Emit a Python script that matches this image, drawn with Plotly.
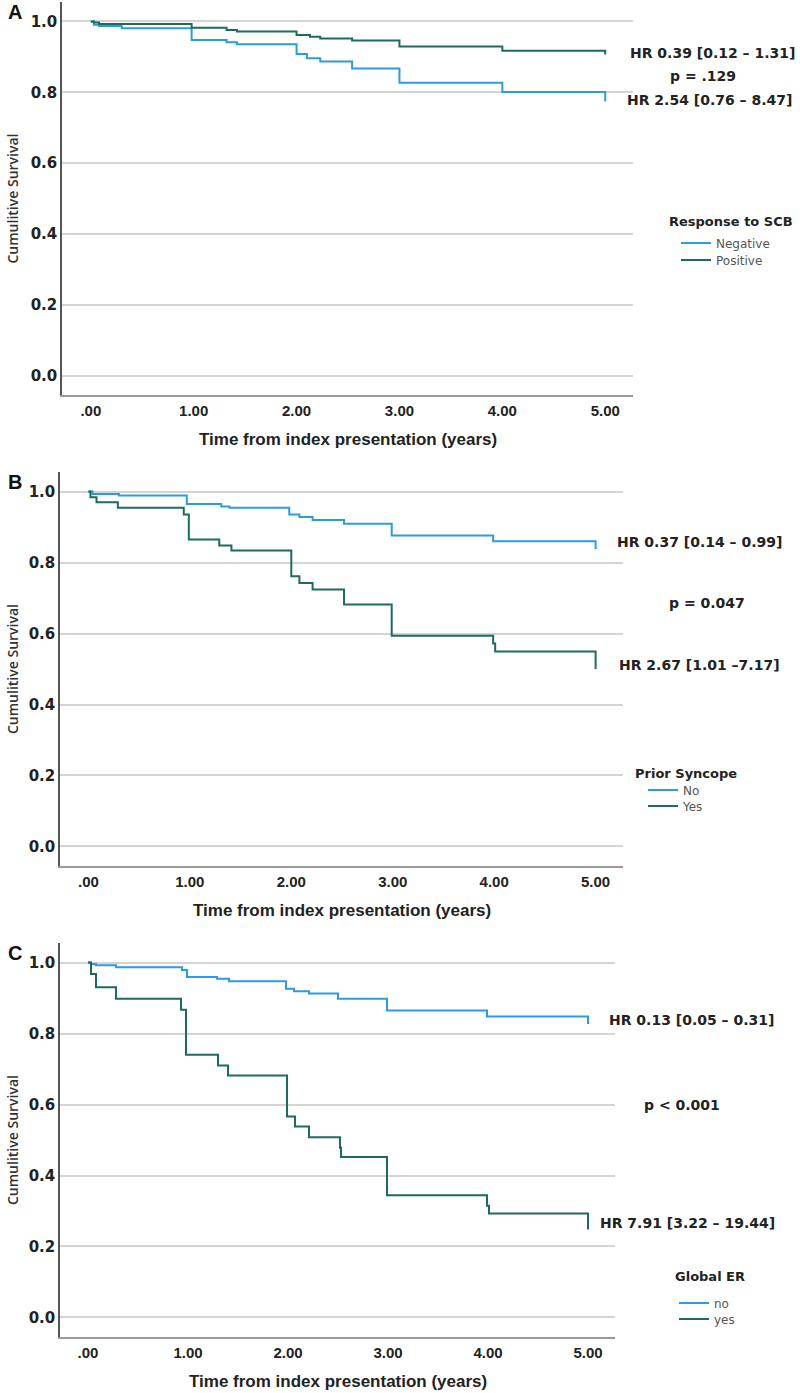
import plotly.graph_objects as go

# ---------------- data ----------------
x_tick_vals = [0, 1, 2, 3, 4, 5]
x_tick_text = [".00", "1.00", "2.00", "3.00", "4.00", "5.00"]
y_tick_vals = [0.0, 0.2, 0.4, 0.6, 0.8, 1.0]
y_tick_text = ["0.0", "0.2", "0.4", "0.6", "0.8", "1.0"]

# Panel A : Response to SCB
a_neg_t = [0, 0.03, 0.08, 0.30, 0.98, 1.32, 1.42, 2.00, 2.10, 2.23, 2.54, 3.00, 4.00, 5.00]
a_neg_s = [1.0, 0.991, 0.987, 0.981, 0.948, 0.941, 0.936, 0.908, 0.896, 0.887, 0.867, 0.827, 0.801, 0.774]
a_pos_t = [0, 0.03, 0.08, 0.98, 1.32, 1.42, 2.00, 2.13, 2.23, 2.54, 3.00, 4.00, 5.00]
a_pos_s = [1.0, 0.997, 0.993, 0.982, 0.976, 0.972, 0.962, 0.957, 0.952, 0.946, 0.929, 0.917, 0.907]

# Panel B : Prior Syncope
b_no_t = [0, 0.04, 0.30, 0.97, 1.31, 1.39, 1.98, 2.08, 2.21, 2.52, 2.99, 3.99, 5.00]
b_no_s = [1.0, 0.993, 0.989, 0.965, 0.958, 0.954, 0.935, 0.928, 0.920, 0.909, 0.876, 0.860, 0.838]
b_yes_t = [0, 0.02, 0.08, 0.29, 0.94, 0.99, 1.29, 1.41, 2.00, 2.08, 2.21, 2.52, 2.99, 3.99, 4.01, 5.00]
b_yes_s = [1.0, 0.984, 0.970, 0.954, 0.935, 0.865, 0.848, 0.834, 0.761, 0.742, 0.724, 0.682, 0.594, 0.572, 0.549, 0.500]

# Panel C : Global ER
c_no_t = [0, 0.03, 0.08, 0.28, 0.94, 0.99, 1.29, 1.41, 1.98, 2.06, 2.21, 2.50, 2.99, 3.99, 5.00]
c_no_s = [1.0, 0.996, 0.992, 0.987, 0.979, 0.959, 0.954, 0.947, 0.926, 0.919, 0.913, 0.898, 0.865, 0.848, 0.827]
c_yes_t = [0, 0.03, 0.08, 0.28, 0.93, 0.98, 1.30, 1.40, 1.99, 2.07, 2.21, 2.52, 2.53, 2.99, 3.99, 4.01, 5.00]
c_yes_s = [1.0, 0.968, 0.930, 0.898, 0.867, 0.740, 0.710, 0.682, 0.566, 0.538, 0.508, 0.478, 0.452, 0.344, 0.315, 0.293, 0.248]

legend_titles = ["Response to SCB", "Prior Syncope", "Global ER"]
group_names = [["Negative", "Positive"], ["No", "Yes"], ["no", "yes"]]
panel_letters = ["A", "B", "C"]
hr_top = ["HR 0.39 [0.12 \u2013 1.31]", "HR 0.37 [0.14 \u2013 0.99]", "HR 0.13 [0.05 \u2013 0.31]"]
p_text = ["p = .129", "p = 0.047", "p < 0.001"]
hr_bot = ["HR 2.54 [0.76 \u2013 8.47]", "HR 2.67 [1.01 \u20137.17]", "HR 7.91 [3.22 \u2013 19.44]"]

# ---------------- styles ----------------
W, H = 800, 1393
BLUE = "#2e9be0"
GREEN = "#1e6a5f"
FONT = "DejaVu Sans"


def px_x(p):
    return p / W


def px_y(p):
    return 1 - p / H


# plot areas in pixels: (left, right, top, bottom)
areas = [(62, 633, 2, 395), (60, 623, 472, 866), (60, 615, 943, 1337)]

series = [
    (a_neg_t, a_neg_s, a_pos_t, a_pos_s),
    (b_no_t, b_no_s, b_yes_t, b_yes_s),
    (c_no_t, c_no_s, c_yes_t, c_yes_s),
]

# legend: title centre (x, y); item text start x, item centre ys
legend_title_pos = [(731, 222), (686, 773), (710, 1276)]
legend_text_x = [716, 683, 714]
legend_item_y = [(243, 260), (790, 806), (1303, 1319)]

hr_pos = [
    ((628, 53), (703, 76), (625, 100)),
    ((615, 542), (707, 603), (617, 665)),
    ((607, 1020), (682, 1105), (598, 1223)),
]

fig = go.Figure()
layout = dict(
    width=W, height=H, margin=dict(l=0, r=0, t=0, b=0),
    paper_bgcolor="white", plot_bgcolor="white",
    font=dict(family=FONT, color="#222"),
)

annotations = []
for i, (t1, s1, t2, s2) in enumerate(series):
    k = "" if i == 0 else str(i + 1)
    lg1 = "legend" if i == 0 else "legend" + str(2 * i + 1)
    lg2 = "legend" + str(2 * i + 2)
    fig.add_trace(go.Scatter(x=t1, y=s1, mode="lines", line=dict(color=BLUE, width=2, shape="hv"),
                             name=group_names[i][0], xaxis="x" + k, yaxis="y" + k, legend=lg1,
                             showlegend=True))
    fig.add_trace(go.Scatter(x=t2, y=s2, mode="lines", line=dict(color=GREEN, width=2, shape="hv"),
                             name=group_names[i][1], xaxis="x" + k, yaxis="y" + k, legend=lg2,
                             showlegend=True))
    for lg, iy in zip((lg1, lg2), legend_item_y[i]):
        layout[lg] = dict(
            x=px_x(legend_text_x[i] - 40), y=px_y(iy), xanchor="left", yanchor="middle",
            font=dict(family=FONT, size=12, color="#555"), itemwidth=30,
            bgcolor="rgba(0,0,0,0)",
        )

for i, (l, r, t, b) in enumerate(areas):
    k = "" if i == 0 else str(i + 1)
    layout["xaxis" + k] = dict(
        domain=[px_x(l), px_x(r)], anchor="y" + k, range=[-0.28, 5.27],
        tickvals=x_tick_vals, ticktext=x_tick_text, showgrid=False, zeroline=False,
        showline=True, linecolor="#9a9a9a", linewidth=2, ticks="",
        tickfont=dict(family="Liberation Sans", size=15, color="#222", weight="bold"),
        ticklabelstandoff=1,
    )
    layout["yaxis" + k] = dict(
        domain=[px_y(b), px_y(t)], anchor="x" + k, range=[-0.055, 1.055],
        tickvals=y_tick_vals, ticktext=y_tick_text, showgrid=True, gridcolor="#d4d4d4",
        gridwidth=1.5, zeroline=False, showline=True, linecolor="#555", linewidth=1.5, ticks="",
        tickfont=dict(family=FONT, size=15, color="#222", weight="bold"),
        ticklabelstandoff=0,
    )
    tx, ty = legend_title_pos[i]
    annotations.append(dict(text="<b>" + legend_titles[i] + "</b>", xref="paper", yref="paper",
                            x=px_x(tx), y=px_y(ty), xanchor="center", yanchor="middle",
                            showarrow=False, font=dict(family=FONT, size=13, color="#222")))
    # panel letter
    annotations.append(dict(text="<b>" + panel_letters[i] + "</b>", xref="paper", yref="paper",
                            x=px_x(6), y=px_y(t + 10), xanchor="left", yanchor="middle",
                            showarrow=False, font=dict(family="Liberation Sans", size=20, color="#111")))
    # y title
    annotations.append(dict(text="Cumulitive Survival", xref="paper", yref="paper",
                            x=px_x(12), y=px_y((t + b) / 2), textangle=-90, showarrow=False,
                            xanchor="center", yanchor="middle",
                            font=dict(family="Open Sans", size=14, color="#333", weight=600)))
    # x title
    annotations.append(dict(text="<b>Time from index presentation (years)</b>", xref="paper", yref="paper",
                            x=px_x((l + r) / 2), y=px_y(b + 44), showarrow=False,
                            xanchor="center", yanchor="middle",
                            font=dict(family="Liberation Sans Narrow, Liberation Sans", size=17, color="#222")))

for i in range(3):
    (x1, y1), (x2, y2), (x3, y3) = hr_pos[i]
    annotations.append(dict(text="<b>" + hr_top[i] + "</b>", xref="paper", yref="paper", x=px_x(x1), y=px_y(y1),
                            xanchor="left", yanchor="middle", showarrow=False,
                            font=dict(family=FONT, size=14, color="#222")))
    annotations.append(dict(text="<b>" + p_text[i] + "</b>", xref="paper", yref="paper", x=px_x(x2), y=px_y(y2),
                            xanchor="center", yanchor="middle", showarrow=False,
                            font=dict(family=FONT, size=14, color="#222")))
    annotations.append(dict(text="<b>" + hr_bot[i] + "</b>", xref="paper", yref="paper", x=px_x(x3), y=px_y(y3),
                            xanchor="left", yanchor="middle", showarrow=False,
                            font=dict(family=FONT, size=14, color="#222")))

layout["annotations"] = annotations
fig.update_layout(**layout)
fig.write_html("out.html", config={"displayModeBar": False},
               post_script="document.body.style.margin='0px';document.body.style.overflow='hidden';")
